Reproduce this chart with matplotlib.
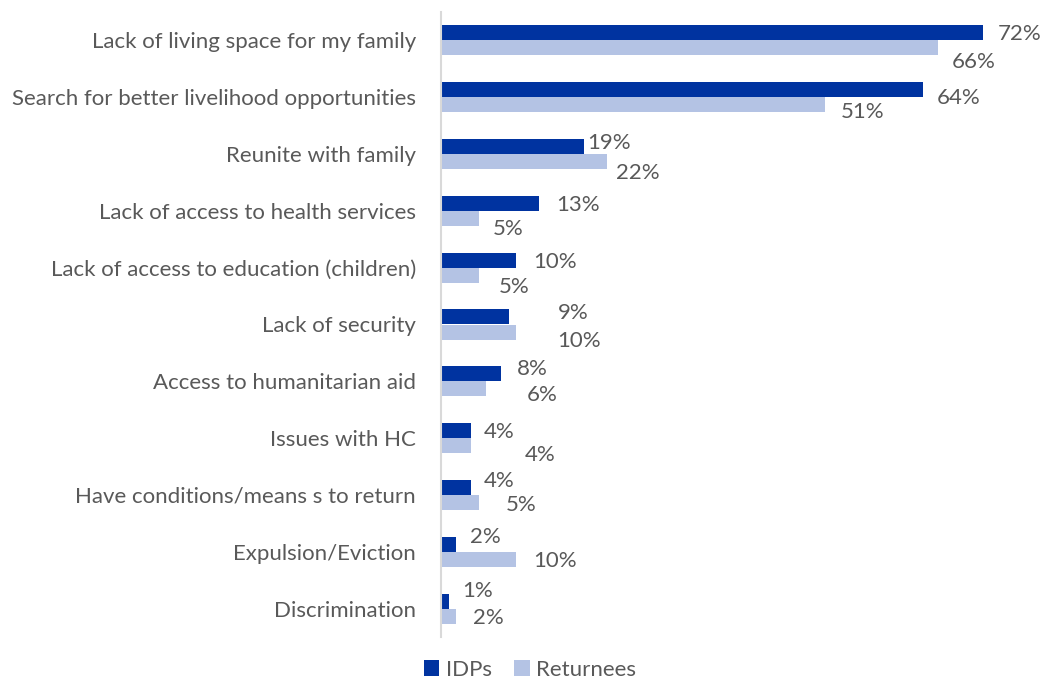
import matplotlib
matplotlib.use("Agg")
import matplotlib.pyplot as plt
import numpy as np

# Reasons for leaving, share of respondents (%)
categories = [
    "Lack of living space for my family",
    "Search for better livelihood opportunities",
    "Reunite with family",
    "Lack of access to health services",
    "Lack of access to education (children)",
    "Lack of security",
    "Access to humanitarian aid",
    "Issues with HC",
    "Have conditions/means s to return",
    "Expulsion/Eviction",
    "Discrimination",
]
idps = [72, 64, 19, 13, 10, 9, 8, 4, 4, 2, 1]
returnees = [66, 51, 22, 5, 5, 10, 6, 4, 5, 10, 2]
series_names = ["IDPs", "Returnees"]

# Hand-placed data label nudges (pixels right / down from the bar end)
idp_label_nudge = [(15, 1), (14, 8), (3, -4), (17, 2), (17, 2), (49, -4),
                   (16, -5), (13, 1), (13, -6), (14, -7), (14, -10)]
ret_label_nudge = [(14, 14), (16, 7), (9, 11), (14, 11), (20, 12), (41, 9),
                   (41, 6), (54, 9), (27, 3), (17, 2), (17, 2)]

IDP_COLOR = "#0033A0"
RET_COLOR = "#B4C3E4"
TEXT_COLOR = "#595959"
FONT = ["Lato", "DejaVu Sans"]
FS = 16

plt.rcParams["font.family"] = FONT

fig = plt.figure(figsize=(10.43, 6.82), dpi=100)
ax = fig.add_axes([441 / 1043, 1 - 637 / 682, 602 / 1043, 625 / 682])

n = len(categories)
y = np.arange(n)
h = 0.265

b1 = ax.barh(y - h / 2, idps, height=h, color=IDP_COLOR, label=series_names[0])
b2 = ax.barh(y + h / 2, returnees, height=h, color=RET_COLOR, label=series_names[1])

for bars, vals, nudges in ((b1, idps, idp_label_nudge), (b2, returnees, ret_label_nudge)):
    for bar, v, (dx, dy) in zip(bars, vals, nudges):
        ax.annotate(f"{v}%", xy=(bar.get_width(), bar.get_y() + bar.get_height() / 2),
                    xytext=(dx, -dy), textcoords="offset pixels",
                    ha="left", va="center", fontsize=FS, color=TEXT_COLOR,
                    annotation_clip=False)

ax.set_xlim(0, 80)
ax.set_ylim(n - 0.5, -0.5)
ax.set_yticks(y)
ax.set_yticklabels(categories, fontsize=FS, color=TEXT_COLOR)
ax.tick_params(axis="y", length=0, pad=18)
ax.set_xticks([])

for side in ("top", "right", "bottom"):
    ax.spines[side].set_visible(False)
ax.spines["left"].set_color("#D9D9D9")
ax.spines["left"].set_linewidth(1.5)

fig.legend(handles=[b1, b2], labels=series_names, loc="lower center",
           bbox_to_anchor=(530 / 1043, -0.026), ncol=2, frameon=False,
           fontsize=FS, labelcolor=TEXT_COLOR, handlelength=0.7, handleheight=0.7,
           handletextpad=0.3, columnspacing=1.0)

fig.savefig("out.png", dpi=100)
